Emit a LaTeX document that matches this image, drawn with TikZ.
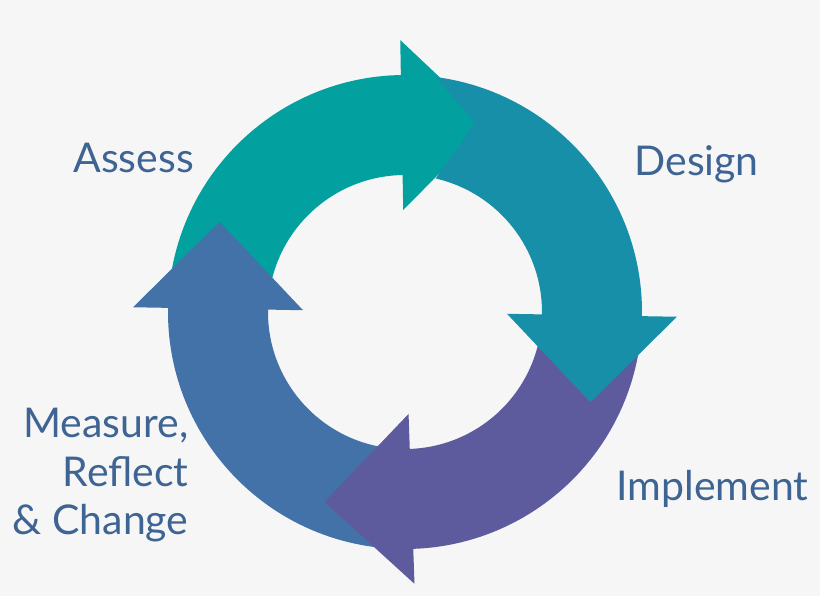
\documentclass[tikz,border=0pt]{standalone}
\usepackage{fontspec}
\setmainfont{Lato}
\usetikzlibrary{calc}

\definecolor{bggrey}{RGB}{246,246,246}
\definecolor{assessteal}{RGB}{2,160,158}
\definecolor{designblue}{RGB}{24,143,168}
\definecolor{implementpurple}{RGB}{94,90,158}
\definecolor{measureblue}{RGB}{66,114,168}
\definecolor{labelblue}{RGB}{62,100,148}

\begin{document}
\begin{tikzpicture}[
x=0.5pt, y=0.5pt,
assess_arrow/.style={fill=assessteal},
design_arrow/.style={fill=designblue},
implement_arrow/.style={fill=implementpurple},
measure_arrow/.style={fill=measureblue},
step_label/.style={text=labelblue, inner sep=0pt, font=\fontsize{20.5}{24.25}\selectfont}
]

\fill[bggrey] (-405,312) rectangle (415,-284);

% ring of four arrows, centre at the origin
\fill[assess_arrow] (175:237) arc[start angle=175, end angle=91, radius=237] -- (91:272) -- ($(91:187)+(1:87)$) -- (91:102) -- (91:137) arc[start angle=91, end angle=175, radius=137] -- cycle;
\fill[measure_arrow] (265:237) arc[start angle=265, end angle=179, radius=237] -- (179:272) -- ($(179:187)+(89:87)$) -- (179:102) -- (179:137) arc[start angle=179, end angle=265, radius=137] -- cycle;
\fill[implement_arrow] (-8:237) arc[start angle=-8, end angle=-88, radius=237] -- (-88:272) -- ($(-88:187)+(-178:87)$) -- (-88:102) -- (-88:137) arc[start angle=-88, end angle=-8, radius=137] -- cycle;
\fill[design_arrow] (82.5:237) arc[start angle=82.5, end angle=-1, radius=237] -- (-1:272) -- ($(-1:187)+(-91:87)$) -- (-1:102) -- (-1:137) arc[start angle=-1, end angle=77, radius=137] .. controls (45,155) and (62,175) .. (69,190) -- (82.5:237) -- cycle;

\node[step_label, anchor=base west](assess_label) at (-332,140) {Assess};
\node[step_label, anchor=base west](design_label) at (229,137) {Design};
\node[step_label, anchor=base west](implement_label) at (211,-188) {Implement};
\node[step_label, anchor=north east, align=right](measure_label) at (-216,-96) {Measure,\\Reflect\\\& Change};

\end{tikzpicture}
\end{document}
